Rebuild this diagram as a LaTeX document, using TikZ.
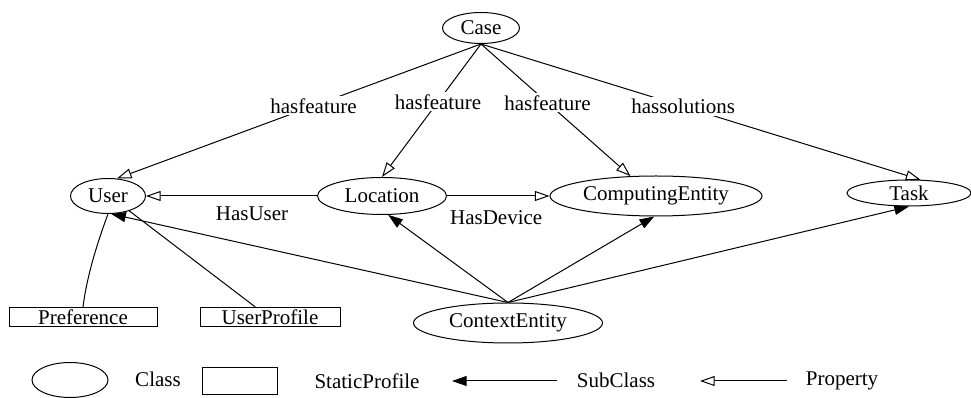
\documentclass[tikz,border=0pt]{standalone}
\usepackage{fontspec}
\setmainfont{Liberation Serif}
\usetikzlibrary{arrows.meta,shapes.geometric}

\begin{document}
\begin{tikzpicture}[x=0.75pt,y=0.75pt,yscale=-1,xscale=1,
  every node/.style={font=\fontsize{15.75}{18}\selectfont},
  cls/.style={draw,ellipse,inner sep=0pt,line width=0.75pt},
  prof/.style={draw,rectangle,inner sep=0pt,line width=0.75pt},
  conn/.style={line width=0.75pt},
  propty/.style={conn,-{Triangle[open,length=11pt,width=7.5pt]}},
  subcls/.style={conn,-{Triangle[length=11pt,width=7.5pt]}},
  lbl/.style={fill=white,inner sep=1.5pt}]
\useasboundingbox (0,0) rectangle (971,398);

%Shape: Ellipse [classes]
\node[cls, minimum width=57.75pt, minimum height=23.25pt] (case) at (481,28) {Case};
\node[cls, minimum width=56.25pt, minimum height=26.25pt] (user) at (108,196) {User};
\node[cls, minimum width=96.75pt, minimum height=27.75pt] (loc) at (382,196) {Location};
\node[cls, minimum width=159pt, minimum height=30pt] (comp) at (656,196) {ComputingEntity};
\node[cls, minimum width=93pt, minimum height=19.5pt] (task) at (909,193) {Task};
\node[cls, minimum width=141.75pt, minimum height=30pt] (ctx) at (508,323) {ContextEntity};
%Shape: Rectangle [static profiles]
\node[prof, minimum width=111pt, minimum height=14.25pt] (pref) at (83,317) {Preference};
\node[prof, minimum width=105pt, minimum height=14.25pt] (uprof) at (270,317) {UserProfile};

%Straight Lines [properties of Case]
\draw[propty] (case.south) -- node[lbl,pos=0.46] (hf1) {hasfeature} (user.63);
\draw[propty] (case.south) -- node[lbl,pos=0.435] (hf2) {hasfeature} (loc.north);
\draw[propty] (case.south) -- node[lbl,pos=0.445] (hf3) {hasfeature} (comp.142);
\draw[propty] (case.south) -- node[lbl,pos=0.46] (hs) {hassolutions} (task.49);
%Straight Lines [properties of Location]
\draw[propty] (loc.west) -- node[pos=0.38,below=4pt] (hu) {HasUser} (user.east);
\draw[propty] (loc.east) -- node[pos=0.48,below=7pt] (hd) {HasDevice} (comp.west);
%Straight Lines [subclasses]
\draw[subcls] (ctx.north) -- (user.-80);
\draw[subcls] (ctx.north) -- (loc.-72);
\draw[subcls] (ctx.north) -- (comp.-95);
\draw[subcls] (ctx.north) -- (task.south);
%Curve Lines [profiles of User]
\draw[conn] (pref.north) .. controls +(4,-32) and +(-10,27) .. (user.south);
\draw[conn] ([xshift=-11pt]uprof.north) -- (user.-35);

% Legend
\node[cls, minimum width=57pt, minimum height=26.25pt] (lgcls) at (70,380) {};
\node (lgclstxt) at (158,379) {Class};
\node[prof, minimum width=56.25pt, minimum height=20.25pt] (lgprof) at (240,381) {};
\node (lgproftxt) at (367,381) {StaticProfile};
\coordinate (subA) at (557,381);
\coordinate (subB) at (452,381);
\draw[subcls] (subA) -- (subB);
\node (lgsubtxt) at (616,380) {SubClass};
\coordinate (propA) at (787,381);
\coordinate (propB) at (700,381);
\draw[propty] (propA) -- (propB);
\node (lgproptxt) at (842,381) {Property};

\end{tikzpicture}
\end{document}
